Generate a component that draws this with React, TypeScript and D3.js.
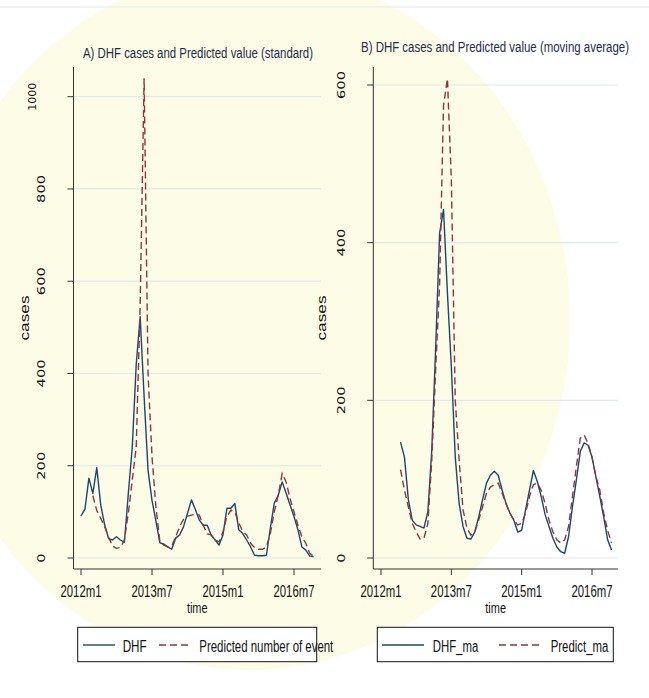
import React from "react";
import * as d3 from "d3";

// monthly series, index 0 = 2012m1 ... index 59 = 2016m12
const xTickValues = [0, 18, 36, 54];
const xTickLabels = ["2012m1", "2013m7", "2015m1", "2016m7"];
const yTicksStandard = [0, 200, 400, 600, 800, 1000];
const yTicksMa = [0, 200, 400, 600];

const dhf = [
  91, 106, 173, 140, 196, 115, 72, 42, 39, 46, 39, 34, 140, 240, 420, 523, 350, 190, 125, 80,
  33, 30, 24, 19, 43, 50, 68, 97, 126, 105, 82, 71, 71, 50, 39, 28, 50, 108, 108, 118,
  61, 53, 39, 24, 6, 5, 5, 6, 65, 119, 136, 165, 141, 115, 90, 61, 24, 17, 4, 3,
];
const predicted = [
  null, null, null, 135, 103, 86, 68, 45, 26, 21, 23, 39, 97, 169, 240, 548, 1040, 398, 220, 110,
  36, 28, 24, 26, 46, 68, 84, 91, 93, 95, 93, 71, 52, 50, 39, 35, 57, 90, 104, 100,
  76, 58, 50, 32, 23, 19, 19, 24, 53, 100, 136, 183, 165, 129, 100, 71, 46, 32, 10, 4,
];
const dhfMa = [
  null, null, null, null, null, 147, 128, 74, 48, 42, 40, 38, 59, 137, 268, 412, 442, 336, 243, 128,
  69, 40, 25, 24, 33, 52, 74, 95, 105, 110, 105, 86, 69, 57, 48, 33, 35, 61, 86, 111,
  97, 78, 55, 40, 25, 14, 8, 6, 27, 65, 99, 135, 146, 143, 128, 103, 78, 52, 23, 10,
];
const predictMa = [
  null, null, null, null, null, 112, 86, 65, 44, 33, 24, 25, 44, 125, 240, 347, 574, 608, 480, 200,
  124, 61, 38, 29, 33, 48, 65, 82, 90, 93, 95, 82, 69, 57, 48, 42, 44, 57, 78, 93,
  95, 86, 69, 48, 33, 23, 19, 23, 40, 78, 116, 152, 156, 145, 128, 103, 86, 57, 35, 19,
];

const NAVY = "#1a476f";
const MAROON = "#90353b";
const SANS = "'Liberation Sans', Arial, sans-serif";
const ROUND = "'DejaVu Sans', sans-serif";
// the source export is squeezed horizontally
const SQUEEZE = 0.815;

type Series = (number | null)[];

type LegendItem = { label: string; len: number; x0: number; x1: number; tx: number; dashed: boolean };

type PanelCfg = {
  title: string;
  titleX: number;
  titleY: number;
  titleLen: number;
  left: number;
  right: number;
  top: number;
  bottom: number;
  xRange: [number, number];
  yDomain: [number, number];
  yRange: [number, number];
  yTicks: number[];
  yLabelX: number;
  casesX: number;
  solid: Series;
  dashed: Series;
  legendBox: [number, number, number, number];
  legend: LegendItem[];
};

const panels: PanelCfg[] = [
  {
    title: "A) DHF cases and Predicted value (standard)",
    titleX: 198, titleY: 58, titleLen: 230,
    left: 73.5, right: 321, top: 67, bottom: 569,
    xRange: [81, 294],
    yDomain: [0, 1000], yRange: [558, 96.7],
    yTicks: yTicksStandard,
    yLabelX: 45, casesX: 28.5,
    solid: dhf, dashed: predicted,
    legendBox: [77.7, 627.3, 239, 34.4],
    legend: [
      { label: "DHF", len: 24, x0: 83, x1: 115, tx: 122.7, dashed: false },
      { label: "Predicted number of event", len: 134, x0: 159, x1: 192, tx: 199.3, dashed: true },
    ],
  },
  {
    title: "B) DHF cases and Predicted value (moving average)",
    titleX: 495, titleY: 51.5, titleLen: 268,
    left: 373.3, right: 618, top: 67, bottom: 569,
    xRange: [381, 592],
    yDomain: [0, 600], yRange: [558, 85],
    yTicks: yTicksMa,
    yLabelX: 344.5, casesX: 326,
    solid: dhfMa, dashed: predictMa,
    legendBox: [377.3, 627.3, 236, 34.4],
    legend: [
      { label: "DHF_ma", len: 45.6, x0: 382, x1: 424, tx: 432.7, dashed: false },
      { label: "Predict_ma", len: 57.6, x0: 499, x1: 542, tx: 550.7, dashed: true },
    ],
  },
];

function Panel({ p }: { p: PanelCfg }) {
  const x = d3.scaleLinear().domain([0, 54]).range(p.xRange);
  const y = d3.scaleLinear().domain(p.yDomain).range(p.yRange);
  const line = d3
    .line<number | null>()
    .defined((d) => d != null)
    .x((_, i) => x(i))
    .y((d) => y(d as number));
  const midX = (p.left + p.right) / 2;
  const midY = (p.top + p.bottom) / 2;

  return (
    <g>
      <text transform={`translate(${p.titleX},${p.titleY}) scale(${SQUEEZE},1)`} textAnchor="middle"
        fontFamily={SANS} fontSize={14} fill="#1e2b4c"
        textLength={p.titleLen / SQUEEZE} lengthAdjust="spacingAndGlyphs">{p.title}</text>

      {p.yTicks.map((t) => {
        const label = String(t);
        // the four-digit label sits further out, as in the original export
        const bx = label.length > 3 ? p.yLabelX - 9 : p.yLabelX;
        const len = label.length > 3 ? 28 : label.length * 9.3;
        return (
          <g key={t}>
            <line x1={p.left} x2={p.right} y1={y(t)} y2={y(t)} stroke="#dfe9e9" strokeWidth={1.2} />
            <line x1={p.left - 6} x2={p.left} y1={y(t)} y2={y(t)} stroke="#333" strokeWidth={1} />
            <text transform={`translate(${bx},${y(t)}) rotate(-90)`} textAnchor="middle"
              fontFamily={ROUND} fontSize={10.5} fill="#111"
              textLength={len} lengthAdjust="spacingAndGlyphs">{label}</text>
          </g>
        );
      })}
      <text transform={`translate(${p.casesX},${midY}) rotate(-90)`} textAnchor="middle"
        fontFamily={SANS} fontSize={13} fill="#111" textLength={45} lengthAdjust="spacingAndGlyphs">cases</text>

      <line x1={p.left} x2={p.left} y1={p.top} y2={p.bottom} stroke="#333" strokeWidth={1} />
      <line x1={p.left} x2={p.right} y1={p.bottom} y2={p.bottom} stroke="#333" strokeWidth={1} />
      {xTickValues.map((t, i) => (
        <g key={t}>
          <line x1={x(t)} x2={x(t)} y1={p.bottom} y2={p.bottom + 6} stroke="#333" strokeWidth={1} />
          <text x={x(t)} y={596.5} textAnchor="middle" fontFamily={SANS} fontSize={16} fill="#111"
            textLength={41} lengthAdjust="spacingAndGlyphs">{xTickLabels[i]}</text>
        </g>
      ))}
      <text x={midX} y={613} textAnchor="middle" fontFamily={SANS} fontSize={15} fill="#111"
        textLength={20.7} lengthAdjust="spacingAndGlyphs">time</text>

      <path d={line(p.solid) ?? ""} fill="none" stroke={NAVY} strokeWidth={1.4} strokeLinejoin="round" />
      <path d={line(p.dashed) ?? ""} fill="none" stroke={MAROON} strokeWidth={1.4} strokeDasharray="7,4" />

      <rect x={p.legendBox[0]} y={p.legendBox[1]} width={p.legendBox[2]} height={p.legendBox[3]}
        fill="#fff" stroke="#111" strokeWidth={1} />
      {p.legend.map((it) => (
        <g key={it.label}>
          <line x1={it.x0} x2={it.x1} y1={645} y2={645} stroke={it.dashed ? MAROON : NAVY} strokeWidth={1.4}
            strokeDasharray={it.dashed ? "7,4" : undefined} />
          <text x={it.tx} y={651.5} fontFamily={SANS} fontSize={16} fill="#111"
            textLength={it.len} lengthAdjust="spacingAndGlyphs">{it.label}</text>
        </g>
      ))}
    </g>
  );
}

export default function App() {
  return (
    <svg width={649} height={698} style={{ position: "absolute", left: 0, top: 0, background: "#fff" }}>
      <ellipse cx={250} cy={320} rx={320} ry={350} fill="#fcfce7" />
      <line x1={0} x2={649} y1={7} y2={7} stroke="#e6ebeb" strokeWidth={1} />
      {panels.map((p) => (
        <Panel key={p.title} p={p} />
      ))}
    </svg>
  );
}
